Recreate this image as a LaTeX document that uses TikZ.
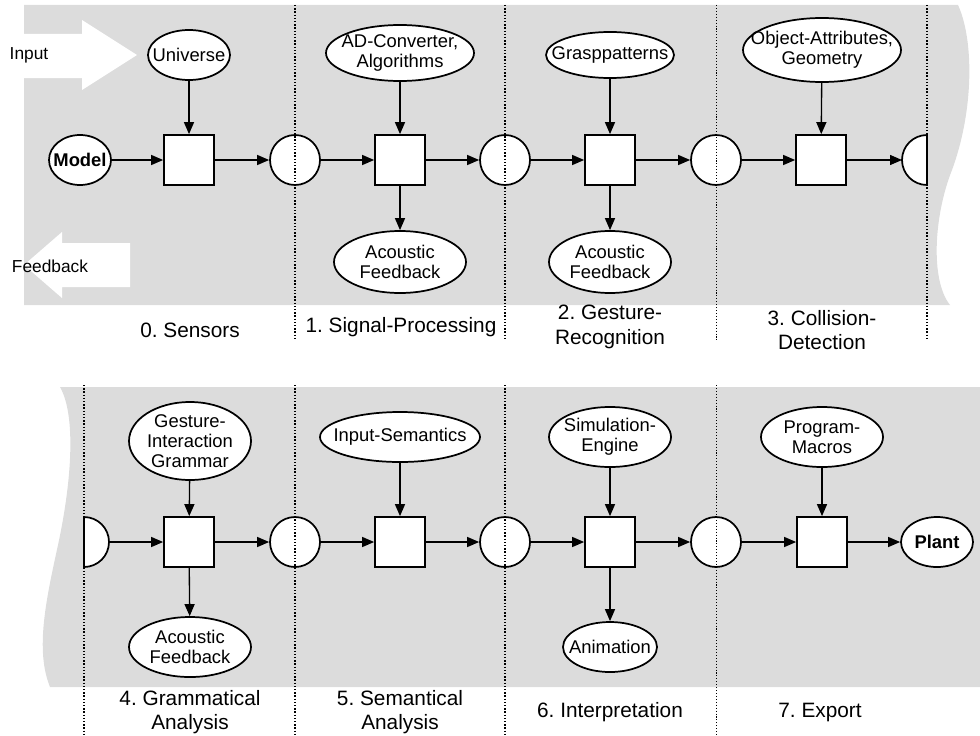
\documentclass[tikz,border=0pt]{standalone}
\usepackage{fontspec}
\setmainfont{Liberation Sans}
\usetikzlibrary{shapes.geometric,arrows.meta}
\definecolor{panel}{RGB}{220,220,220}
\frenchspacing
\begin{document}
\begin{tikzpicture}[x=0.75pt,y=-0.75pt,
  ell/.style 2 args={ellipse, draw, fill=white, line width=1.3pt, inner sep=0pt,
    minimum width=#1*0.75pt, minimum height=#2*0.75pt},
  etxt/.style={font=\fontsize{13.8pt}{15.2pt}\selectfont, align=center, inner sep=0pt},
  proc/.style={rectangle, draw, fill=white, line width=1.3pt, minimum size=37.5pt, inner sep=0pt},
  place/.style={circle, draw, fill=white, line width=1.3pt, minimum size=37.5pt, inner sep=0pt},
  halfp/.style={draw, fill=white, line width=1.3pt},
  arr/.style={-{Triangle[length=9pt,width=7.5pt]}, line width=1pt},
  sep/.style={line width=1.1pt, dash pattern=on 1.1pt off 1.3pt},
  septhin/.style={line width=0.7pt, dash pattern=on 0.8pt off 1.4pt},
  phase/.style={font=\fontsize{15.6pt}{18.5pt}\selectfont, align=center, inner sep=0pt},
  side/.style={font=\fontsize{13pt}{14pt}\selectfont, inner sep=0pt},
  bigarrow/.style={fill=white, draw=none}
]
\useasboundingbox (0,0) rectangle (980,735);

% panels
\fill[panel] (24,5) -- (958,5) .. controls (974,40) and (974,110) .. (952,170)
  .. controls (934,215) and (930,280) .. (950,305) -- (24,305) -- cycle;
\fill[panel] (60,387) -- (980,387) -- (980,687) -- (50,687)
  .. controls (35,650) and (46,600) .. (58,545) .. controls (72,480) and (76,415) .. (60,387) -- cycle;

% big white arrows
\fill[bigarrow] (24,34) -- (82,34) -- (82,20) -- (137,55) -- (82,90) -- (82,78) -- (24,78) -- cycle;
\fill[bigarrow] (24,265) -- (62,232) -- (62,243) -- (130,243) -- (130,287) -- (62,287) -- (62,298) -- cycle;
\node[side] (inlab) at (29,55) {Input};
\node[side] (fblab) at (50,266) {Feedback};

% top row nodes
\node[ell={62}{50}, label={[etxt]center:\bfseries Model}] (model) at (80,160) {};
\node[ell={82}{50}, label={[etxt]center:Universe}] (univ) at (189,55) {};
\node[ell={148}{56}, label={[etxt]center:{AD-Converter,\\Algorithms}}] (adc) at (400,53) {};
\node[ell={128}{46}, label={[etxt]center:Grasppatterns}] (grasp) at (610,55) {};
\node[ell={158}{64}, label={[etxt]center:{Object-Attributes,\\Geometry}}] (oa) at (822,50) {};
\node[ell={132}{62}, label={[etxt]center:{Acoustic\\Feedback}}] (af1) at (400,262) {};
\node[ell={122}{62}, label={[etxt]center:{Acoustic\\Feedback}}] (af2) at (610,262) {};

\node[proc] (b0) at (189,160) {};
\node[proc] (b1) at (400,160) {};
\node[proc] (b2) at (610,160) {};
\node[proc] (b3) at (821,160) {};
\node[place] (c0) at (295,160) {};
\node[place] (c1) at (505,160) {};
\node[place] (c2) at (716,160) {};
\draw[halfp] (927,185) arc[start angle=90, end angle=270, radius=25] -- cycle;
\coordinate (h0) at (902,160);

% bottom row nodes
\node[ell={122}{78}, label={[etxt]center:{Gesture-\\Interaction\\Grammar}}] (gig) at (190,441) {};
\node[ell={122}{60}, label={[etxt]center:{Acoustic\\Feedback}}] (af3) at (190,647) {};
\node[ell={160}{50}, label={[etxt]center:Input-Semantics}] (insem) at (400,437) {};
\node[ell={122}{60}, label={[etxt]center:{Simulation-\\Engine}}] (sim) at (610,437) {};
\node[ell={94}{50}, label={[etxt]center:Animation}] (anim) at (610,647) {};
\node[ell={122}{60}, label={[etxt]center:{Program-\\Macros}}] (prog) at (822,437) {};
\node[ell={72}{50}, label={[etxt]center:\bfseries Plant}] (plant) at (937,542) {};

\node[proc] (b4) at (189,542) {};
\node[proc] (b5) at (400,542) {};
\node[proc] (b6) at (610,542) {};
\node[proc] (b7) at (822,542) {};
\node[place] (c3) at (295,542) {};
\node[place] (c4) at (505,542) {};
\node[place] (c5) at (716,542) {};
\draw[halfp] (84,517) arc[start angle=-90, end angle=90, radius=25] -- cycle;
\coordinate (h1) at (109,542);

% connectors top
\draw[arr] (model) -- (b0);
\draw[arr] (univ) -- (b0);
\draw[arr] (b0) -- (c0);
\draw[arr] (c0) -- (b1);
\draw[arr] (adc) -- (b1);
\draw[arr] (b1) -- (af1);
\draw[arr] (b1) -- (c1);
\draw[arr] (c1) -- (b2);
\draw[arr] (grasp) -- (b2);
\draw[arr] (b2) -- (af2);
\draw[arr] (b2) -- (c2);
\draw[arr] (c2) -- (b3);
\draw[arr] (oa) -- (b3);
\draw[arr] (b3) -- (h0);

% connectors bottom
\draw[arr] (h1) -- (b4);
\draw[arr] (gig) -- (b4);
\draw[arr] (b4) -- (af3);
\draw[arr] (b4) -- (c3);
\draw[arr] (c3) -- (b5);
\draw[arr] (insem) -- (b5);
\draw[arr] (b5) -- (c4);
\draw[arr] (c4) -- (b6);
\draw[arr] (sim) -- (b6);
\draw[arr] (b6) -- (anim);
\draw[arr] (b6) -- (c5);
\draw[arr] (c5) -- (b7);
\draw[arr] (prog) -- (b7);
\draw[arr] (b7) -- (plant);

% phase separators
\draw[sep] (295,5) -- (295,340);
\draw[sep] (505,5) -- (505,340);
\draw[septhin] (716,5) -- (716,340);
\draw[sep] (927,5) -- (927,340);
\draw[sep] (84,385) -- (84,735);
\draw[sep] (295,385) -- (295,735);
\draw[sep] (505,385) -- (505,735);
\draw[septhin] (716,385) -- (716,735);

% phase labels
\node[phase] (p0) at (190,330) {0. Sensors};
\node[phase] (p1) at (401,327) {1. Signal-Processing};
\node[phase] (p2) at (610,327) {2. Gesture-\\Recognition};
\node[phase] (p3) at (822,330) {3. Collision-\\Detection};
\node[phase] (p4) at (190,712) {4. Grammatical\\Analysis};
\node[phase] (p5) at (400,712) {5. Semantical\\Analysis};
\node[phase] (p6) at (610,712) {6. Interpretation};
\node[phase] (p7) at (820,712) {7. Export};
\end{tikzpicture}
\end{document}
